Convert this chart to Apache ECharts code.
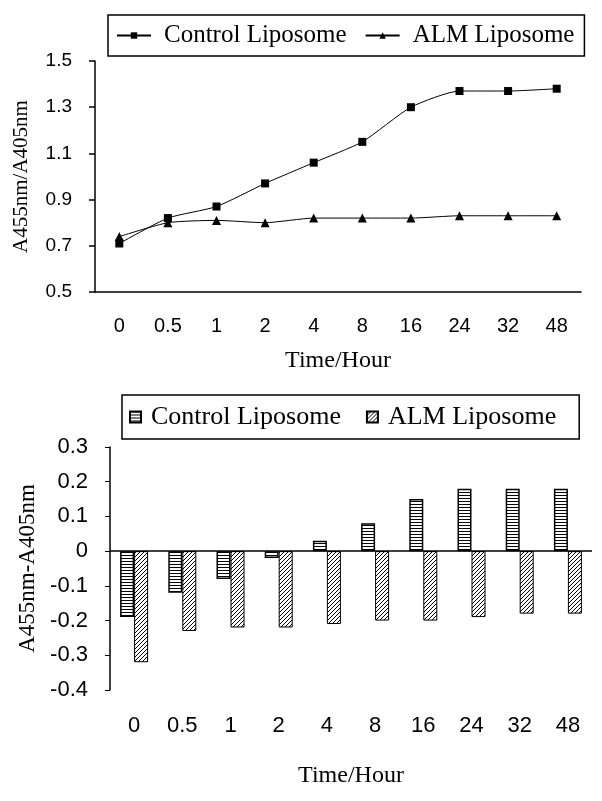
<!DOCTYPE html>
<html>
<head>
<meta charset="utf-8">
<script src="https://cdn.jsdelivr.net/npm/echarts@6/dist/echarts.min.js"></script>
<style>
  html, body { margin: 0; padding: 0; background: #fff; }
  #chart { width: 602px; height: 801px; }
</style>
</head>
<body>
<div id="chart"></div>
<script>
// time points (hours)
var hours = ['0', '0.5', '1', '2', '4', '8', '16', '24', '32', '48'];

// top panel: A455/A405 ratio
var controlRatio = [0.71, 0.82, 0.87, 0.97, 1.06, 1.15, 1.30, 1.37, 1.37, 1.38];
var almRatio = [0.74, 0.80, 0.81, 0.80, 0.82, 0.82, 0.82, 0.83, 0.83, 0.83];

// bottom panel: A455 - A405 difference
var controlDiff = [-0.19, -0.12, -0.08, -0.02, 0.03, 0.08, 0.15, 0.18, 0.18, 0.18];
var almDiff = [-0.32, -0.23, -0.22, -0.22, -0.21, -0.20, -0.20, -0.19, -0.18, -0.18];

var serif = 'Liberation Serif';
var sans = 'Liberation Sans';

// hatch patterns for the bars
function makePattern(kind) {
    var c = document.createElement('canvas');
    var ctx = c.getContext('2d');
    if (kind === 'h') {
        c.width = 4; c.height = 3;
        ctx.fillStyle = '#fff';
        ctx.fillRect(0, 0, 4, 3);
        ctx.fillStyle = '#000';
        ctx.fillRect(0, 0, 4, 1);
    } else {
        c.width = 4; c.height = 4;
        ctx.fillStyle = '#fff';
        ctx.fillRect(0, 0, 4, 4);
        ctx.fillStyle = '#000';
        for (var i = 0; i < 4; i++) ctx.fillRect(i, 3 - i, 1, 1);
    }
    return {image: c, repeat: 'repeat'};
}

var legendNames = {
    barControl: 'Control Liposome',
    barAlm: 'ALM Liposome'
};

var myChart = echarts.init(document.getElementById('chart'));
var option = {
    backgroundColor: '#fff',
    animation: false,
    legend: [
        {
            data: ['Control Liposome', 'ALM Liposome'],
            left: 108,
            top: 15,
            padding: [8, 10, 8, 8],
            itemGap: 18,
            itemWidth: 34,
            itemHeight: 8,
            borderColor: '#000',
            borderWidth: 1.5,
            textStyle: {fontFamily: serif, fontSize: 25, color: '#000', padding: [0, 0, 0, 8]}
        },
        {
            data: ['barControl', 'barAlm'],
            left: 122,
            top: 395,
            padding: [9, 23, 9, 7],
            itemGap: 25,
            itemWidth: 11,
            itemHeight: 11,
            icon: 'rect',
            borderColor: '#000',
            borderWidth: 1.5,
            formatter: function (n) { return legendNames[n]; },
            textStyle: {fontFamily: serif, fontSize: 26, color: '#000', padding: [0, 0, 0, 5]}
        }
    ],
    grid: [
        {left: 95, right: 21, top: 61, bottom: 509},
        {left: 110, right: 10, top: 447, bottom: 111}
    ],
    xAxis: [
        {
            gridIndex: 0,
            type: 'category',
            data: hours,
            axisLine: {lineStyle: {color: '#000', width: 1.5}},
            axisTick: {show: false},
            axisLabel: {color: '#000', fontFamily: sans, fontSize: 20, margin: 24},
            name: 'Time/Hour',
            nameLocation: 'middle',
            nameGap: 57,
            nameTextStyle: {color: '#000', fontFamily: serif, fontSize: 24}
        },
        {
            gridIndex: 1,
            type: 'category',
            data: hours,
            axisLine: {show: false, onZero: false},
            axisTick: {show: false},
            axisLabel: {color: '#000', fontFamily: sans, fontSize: 22, margin: 25},
            name: 'Time/Hour',
            nameLocation: 'middle',
            nameGap: 74,
            nameTextStyle: {color: '#000', fontFamily: serif, fontSize: 24}
        }
    ],
    yAxis: [
        {
            gridIndex: 0,
            type: 'value',
            min: 0.5,
            max: 1.5,
            interval: 0.2,
            splitLine: {show: false},
            axisLine: {show: true, lineStyle: {color: '#000', width: 1.5}},
            axisTick: {show: true, length: 6, lineStyle: {color: '#000', width: 1.5}},
            axisLabel: {color: '#000', fontFamily: sans, fontSize: 19, margin: 23,
                formatter: function (v) { return v.toFixed(1); }},
            name: 'A455nm/A405nm',
            nameLocation: 'middle',
            nameGap: 63,
            nameTextStyle: {color: '#000', fontFamily: serif, fontSize: 21}
        },
        {
            gridIndex: 1,
            type: 'value',
            min: -0.4,
            max: 0.3,
            interval: 0.1,
            splitLine: {show: false},
            axisLine: {show: true, lineStyle: {color: '#000', width: 1.5}},
            axisTick: {show: true, length: 5, lineStyle: {color: '#000', width: 1}},
            axisLabel: {color: '#000', fontFamily: sans, fontSize: 22, margin: 22,
                formatter: function (v) { return v === 0 ? '0' : v.toFixed(1); }},
            name: 'A455nm-A405nm',
            nameLocation: 'middle',
            nameGap: 67,
            nameTextStyle: {color: '#000', fontFamily: serif, fontSize: 23}
        }
    ],
    series: [
        {
            name: 'Control Liposome',
            type: 'line',
            xAxisIndex: 0,
            yAxisIndex: 0,
            data: controlRatio,
            smooth: 0.2,
            symbol: 'rect',
            symbolSize: 8,
            itemStyle: {color: '#000'},
            lineStyle: {color: '#000', width: 1}
        },
        {
            name: 'ALM Liposome',
            type: 'line',
            xAxisIndex: 0,
            yAxisIndex: 0,
            data: almRatio,
            smooth: 0.2,
            symbol: 'triangle',
            symbolSize: 9,
            itemStyle: {color: '#000'},
            lineStyle: {color: '#000', width: 1}
        },
        {
            name: 'barControl',
            type: 'bar',
            xAxisIndex: 1,
            yAxisIndex: 1,
            data: controlDiff,
            barWidth: 14,
            barGap: '0%',
            itemStyle: {color: makePattern('h'), borderColor: '#000', borderWidth: 1.5},
            markLine: {
                silent: true,
                symbol: 'none',
                label: {show: false},
                lineStyle: {color: '#000', width: 1.5, type: 'solid'},
                data: [{yAxis: 0}]
            }
        },
        {
            name: 'barAlm',
            type: 'bar',
            xAxisIndex: 1,
            yAxisIndex: 1,
            data: almDiff,
            barWidth: 14,
            barGap: '0%',
            itemStyle: {color: makePattern('d'), borderColor: '#000', borderWidth: 1}
        }
    ]
};

myChart.setOption(option);
</script>
</body>
</html>
